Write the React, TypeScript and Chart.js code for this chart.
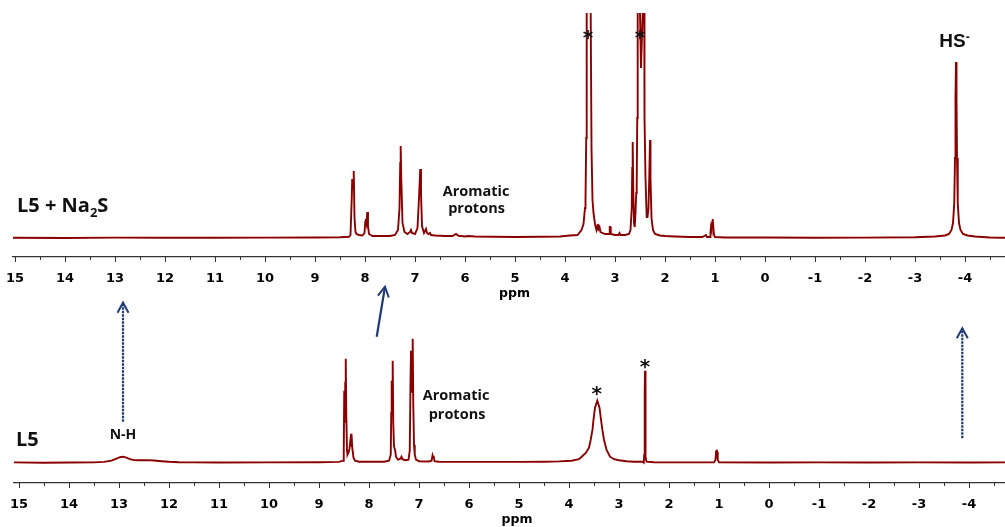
import React, { useEffect, useRef } from 'react';
import { Chart, registerables } from 'chart.js';

Chart.register(...registerables);

// ---------- DATA (ppm, intensity) ----------
// Upper trace: L5 + Na2S
const topPpm = [
  15.04, 14.0, 13.0, 12.0, 11.0, 10.0, 9.0, 8.5, 8.32, 8.29, 8.265, 8.255, 8.24, 8.225, 8.21, 8.19, 8.17, 8.12,
  8.05, 8.01, 7.995, 7.985, 7.97, 7.955, 7.94, 7.92, 7.85, 7.5, 7.4, 7.34, 7.31, 7.295, 7.286, 7.275, 7.25, 7.21,
  7.15, 7.1, 7.08, 7.06, 7.0, 6.95, 6.92, 6.895, 6.88, 6.86, 6.82, 6.78, 6.76, 6.73, 6.7, 6.68, 6.6, 6.4, 6.25,
  6.18, 6.13, 6.0, 5.94, 5.8, 5.0, 4.5, 4.1, 3.9, 3.75, 3.67, 3.63, 3.6, 3.59, 3.575, 3.566, 3.555, 3.535, 3.51,
  3.486, 3.47, 3.45, 3.43, 3.4, 3.37, 3.35, 3.345, 3.33, 3.31, 3.29, 3.2, 3.12, 3.105, 3.095, 3.085, 3.0, 2.93,
  2.91, 2.89, 2.8, 2.72, 2.69, 2.665, 2.655, 2.646, 2.635, 2.62, 2.605, 2.59, 2.575, 2.566, 2.555, 2.546, 2.53,
  2.5, 2.48, 2.446, 2.43, 2.414, 2.41, 2.39, 2.366, 2.35, 2.33, 2.315, 2.3, 2.29, 2.27, 2.24, 2.2, 2.1, 2.0, 1.8,
  1.5, 1.25, 1.18, 1.16, 1.1, 1.09, 1.08, 1.07, 1.055, 1.046, 1.035, 1.02, 1.0, 0.8, 0.0, -1.0, -2.0, -3.0, -3.4,
  -3.6, -3.68, -3.73, -3.76, -3.785, -3.8, -3.81, -3.82, -3.83, -3.84, -3.855, -3.88, -3.91, -3.96, -4.05, -4.2,
  -4.5, -4.8,
];
const topIntensity = [
  0.3, 0, 0.4, 0.2, 0.3, 0.4, 0.5, 0.8, 1.2, 3, 40, 59, 50, 67, 20, 6, 4, 3,
  2.5, 5, 16, 19, 15, 26, 12, 4, 2, 2, 3, 8, 30, 75, 92, 60, 15, 6,
  4, 6, 8, 5, 4, 10, 40, 69, 45, 12, 5, 9, 5, 4, 5, 3, 2.5, 2, 2,
  4, 2.2, 1.5, 2, 1.5, 1, 1.2, 1.5, 2.5, 3, 8, 14, 30, 38, 100, 225, 450, 600, 450,
  225, 90, 38, 25, 14, 8, 12, 14, 9, 11, 6, 4, 4, 11, 11, 4, 3, 3,
  5, 3, 3, 4, 8, 30, 70, 96, 50, 15, 11, 25, 45, 51, 120, 225, 600,
  225, 170, 225, 600, 225, 121, 60, 21, 21, 30, 60, 98, 60, 20, 8, 4, 2.5, 2, 1.5,
  1, 1, 3, 1, 1, 6, 11, 9, 16, 19, 12, 3, 1, 0.5, 0.5, 0.3, 0.4, 0.8, 1.5,
  2.5, 4, 8, 15, 35, 80, 140, 176, 140, 80, 35, 15, 8, 4, 2.5, 1.5,
  0.5, 0.3,
];

// Lower trace: L5
const bottomPpm = [
  15.1, 14.5, 14.0, 13.5, 13.3, 13.15, 13.05, 12.98, 12.92, 12.85, 12.78, 12.7, 12.6, 12.45, 12.3, 12.15, 12.0,
  11.8, 11.5, 11.0, 10.0, 9.0, 8.6, 8.52, 8.505, 8.495, 8.485, 8.475, 8.465, 8.455, 8.44, 8.43, 8.41, 8.39, 8.375,
  8.365, 8.35, 8.335, 8.31, 8.28, 8.2, 7.7, 7.6, 7.565, 7.555, 7.546, 7.535, 7.526, 7.515, 7.5, 7.48, 7.46, 7.42,
  7.37, 7.35, 7.33, 7.28, 7.21, 7.185, 7.17, 7.16, 7.15, 7.135, 7.126, 7.115, 7.1, 7.085, 7.06, 7.0, 6.8, 6.75,
  6.73, 6.72, 6.71, 6.69, 6.6, 6.0, 5.0, 4.5, 4.2, 3.95, 3.8, 3.746, 3.66, 3.6, 3.566, 3.53, 3.51, 3.48, 3.434,
  3.39, 3.36, 3.33, 3.3, 3.25, 3.18, 3.1, 3.0, 2.85, 2.7, 2.53, 2.505, 2.495, 2.486, 2.48, 2.474, 2.465, 2.45,
  2.3, 1.5, 1.1, 1.07, 1.058, 1.046, 1.038, 1.025, 1.0, 0.0, -1.0, -2.0, -3.0, -4.0, -4.72,
];
const bottomIntensity = [
  0.3, 0, 0.2, 0.3, 0.8, 2, 4, 5.5, 6, 5, 3.5, 2.6, 2.5, 2.6, 2.2, 1.5, 0.9,
  0.5, 0.3, 0.2, 0.3, 0.4, 0.8, 2, 10, 72, 40, 80, 104, 50, 12, 8, 10, 14, 21,
  16, 29, 15, 5, 2, 1, 1, 2, 8, 50, 82, 60, 102, 40, 16, 13, 6, 3,
  4, 6, 3.5, 2.5, 3, 12, 80, 112, 70, 90, 124, 60, 18, 8, 3, 1.5, 1.2, 2,
  7, 5, 7, 1.5, 1, 0.8, 0.8, 1, 1.3, 2, 3.5, 6, 10, 15, 23, 33, 43, 55, 62,
  55, 43, 32, 23, 13, 6, 3.5, 2.5, 1.5, 1, 1, 0, 8, 70, 92, 70, 6, 1,
  0.5, 0.3, 0.3, 3, 11, 13, 11, 3, 0.3, 0.2, 0.3, 0.2, 0.3, 0.2, 0.3,
];

// Axis ranges (ppm, reversed axis)
const topRange = { min: -4.8, max: 15.04 };
const bottomRange = { min: -4.72, max: 15.1 };
const tickStep = 0.5;
const axisTitle = 'ppm';

// Annotations (labels, asterisks, arrows) in ppm / intensity units
const topNotes = [
  { type: 'text', x: 14.96, y: 25.7, align: 'left', family: 'Open Sans', parts: [{ t: 'L5 + Na', size: 20 }, { t: '2', size: 13, dy: 5 }, { t: 'S', size: 20 }] },
  { type: 'text', x: 5.78, y: 42.3, align: 'center', family: 'Open Sans', parts: [{ t: 'Aromatic', size: 14.5 }] },
  { type: 'text', x: 5.77, y: 25, align: 'center', family: 'Open Sans', parts: [{ t: 'protons', size: 14.5 }] },
  { type: 'text', x: 3.54, y: 194, align: 'center', family: 'DejaVu Sans', parts: [{ t: '*', size: 20 }] },
  { type: 'text', x: 2.5, y: 194, align: 'center', family: 'DejaVu Sans', parts: [{ t: '*', size: 20 }] },
  { type: 'text', x: -3.486, y: 191.3, align: 'left', family: 'Liberation Sans', parts: [{ t: 'HS', size: 19 }, { t: '-', size: 12, dy: -6 }] },
];
const bottomNotes = [
  { type: 'text', x: 15.06, y: 17, align: 'left', family: 'Open Sans', parts: [{ t: 'L5', size: 20 }] },
  { type: 'text', x: 12.92, y: 23.4, align: 'center', family: 'Open Sans', parts: [{ t: 'N-H', size: 14 }] },
  { type: 'text', x: 6.26, y: 62.7, align: 'center', family: 'Open Sans', parts: [{ t: 'Aromatic', size: 14.5 }] },
  { type: 'text', x: 6.24, y: 44, align: 'center', family: 'Open Sans', parts: [{ t: 'protons', size: 14.5 }] },
  { type: 'text', x: 3.446, y: 62.4, align: 'center', family: 'DejaVu Sans', parts: [{ t: '*', size: 20 }] },
  { type: 'text', x: 2.48, y: 90, align: 'center', family: 'DejaVu Sans', parts: [{ t: '*', size: 20 }] },
  { type: 'arrow', x1: 12.92, y1: 41, x2: 12.92, y2: 160, dashed: true },
  { type: 'arrow', x1: 7.846, y1: 126, x2: 7.68, y2: 176, dashed: false },
  { type: 'arrow', x1: -3.866, y1: 24.4, x2: -3.866, y2: 134.4, dashed: true },
];

const LINE_COLOR = '#8a0000';
const ARROW_COLOR = '#1f3a75';
const AXIS_COLOR = '#333333';

function drawParts(ctx: CanvasRenderingContext2D, x: number, y: number, parts: any[], family: string, align: string) {
  let total = 0;
  parts.forEach((p) => {
    ctx.font = `bold ${p.size}px "${family}"`;
    total += ctx.measureText(p.t).width;
  });
  let cx = align === 'center' ? x - total / 2 : align === 'right' ? x - total : x;
  ctx.textAlign = 'left';
  ctx.textBaseline = 'alphabetic';
  parts.forEach((p) => {
    ctx.font = `bold ${p.size}px "${family}"`;
    ctx.fillText(p.t, cx, y + (p.dy || 0));
    cx += ctx.measureText(p.t).width;
  });
}

function makeDecor(notes: any[], titleValue: number, titleDy: number) {
  return {
    id: 'nmrDecor',
    afterDraw(chart: any) {
      const { ctx, chartArea } = chart;
      const xs = chart.scales.x;
      const ys = chart.scales.y;
      ctx.save();
      // tick marks: long at integers, short at halves
      ctx.strokeStyle = AXIS_COLOR;
      ctx.lineWidth = 1;
      xs.ticks.forEach((t: any) => {
        const px = Math.round(xs.getPixelForValue(t.value)) + 0.5;
        const len = Number.isInteger(t.value) ? 5 : 3;
        ctx.beginPath();
        ctx.moveTo(px, chartArea.bottom);
        ctx.lineTo(px, chartArea.bottom + len);
        ctx.stroke();
      });
      // axis title
      ctx.fillStyle = '#000';
      drawParts(ctx, xs.getPixelForValue(titleValue), chartArea.bottom + titleDy, [{ t: axisTitle, size: 12.5 }], 'DejaVu Sans', 'center');
      // notes
      notes.forEach((n) => {
        if (n.type === 'text') {
          ctx.fillStyle = '#111';
          drawParts(ctx, xs.getPixelForValue(n.x), ys.getPixelForValue(n.y), n.parts, n.family, n.align);
        } else if (n.type === 'arrow') {
          const x1 = xs.getPixelForValue(n.x1);
          const y1 = ys.getPixelForValue(n.y1);
          const x2 = xs.getPixelForValue(n.x2);
          const y2 = ys.getPixelForValue(n.y2);
          ctx.strokeStyle = ARROW_COLOR;
          ctx.lineWidth = 2.2;
          ctx.setLineDash(n.dashed ? [2.5, 1] : []);
          ctx.beginPath();
          ctx.moveTo(x1, y1);
          ctx.lineTo(x2, y2);
          ctx.stroke();
          ctx.setLineDash([]);
          const ang = Math.atan2(y2 - y1, x2 - x1);
          const hl = 10;
          const hw = 5.5;
          const bx = x2 - hl * Math.cos(ang);
          const by = y2 - hl * Math.sin(ang);
          const nx = -Math.sin(ang);
          const ny = Math.cos(ang);
          ctx.lineWidth = 2;
          ctx.beginPath();
          ctx.moveTo(bx + nx * hw, by + ny * hw);
          ctx.lineTo(x2, y2);
          ctx.lineTo(bx - nx * hw, by - ny * hw);
          ctx.stroke();
        }
      });
      ctx.restore();
    },
  };
}

function buildConfig(ppm: number[], inten: number[], range: any, yMin: number, yMax: number, padLeft: number, padTop: number, axisH: number, notes: any[], titleValue: number) {
  return {
    type: 'line',
    data: {
      datasets: [
        {
          data: ppm.map((p, i) => ({ x: p, y: inten[i] })),
          borderColor: LINE_COLOR,
          borderWidth: 1.9,
          pointRadius: 0,
          tension: 0,
          fill: false,
        },
      ],
    },
    options: {
      responsive: false,
      animation: false,
      events: [],
      layout: { padding: { left: padLeft, right: 0, top: padTop, bottom: 0 } },
      plugins: { legend: { display: false }, tooltip: { enabled: false }, title: { display: false } },
      scales: {
        x: {
          type: 'linear',
          reverse: true,
          min: range.min,
          max: range.max,
          grid: { display: false },
          border: { display: true, color: AXIS_COLOR, width: 1.2 },
          ticks: {
            stepSize: tickStep,
            autoSkip: false,
            maxRotation: 0,
            includeBounds: false,
            padding: 6,
            color: '#000',
            font: { family: 'DejaVu Sans', weight: 'bold', size: 13 },
            callback: (v: any) => (Number.isInteger(v) ? String(v) : ''),
          },
          afterFit: (s: any) => {
            s.height = axisH;
            s.paddingLeft = 0;
            s.paddingRight = 0;
          },
        },
        y: { display: false, min: yMin, max: yMax },
      },
    },
    plugins: [makeDecor(notes, titleValue, 40)],
  };
}

export default function App() {
  const topRef = useRef<HTMLCanvasElement>(null);
  const botRef = useRef<HTMLCanvasElement>(null);

  useEffect(() => {
    const c1 = new Chart(topRef.current as any, buildConfig(topPpm, topIntensity, topRange, -19, 225, 13, 13, 43, topNotes, 5.01) as any);
    const c2 = new Chart(botRef.current as any, buildConfig(bottomPpm, bottomIntensity, bottomRange, -20.3, 172.7, 14, 10, 44, bottomNotes, 5.04) as any);
    return () => {
      c1.destroy();
      c2.destroy();
    };
  }, []);

  return (
    <div style={{ position: 'absolute', left: 0, top: 0, width: 1005, height: 527, background: '#fff', overflow: 'hidden' }}>
      <canvas ref={topRef} width={1005} height={300} style={{ position: 'absolute', left: 0, top: 0 }} />
      <canvas ref={botRef} width={1005} height={247} style={{ position: 'absolute', left: 0, top: 280 }} />
    </div>
  );
}
